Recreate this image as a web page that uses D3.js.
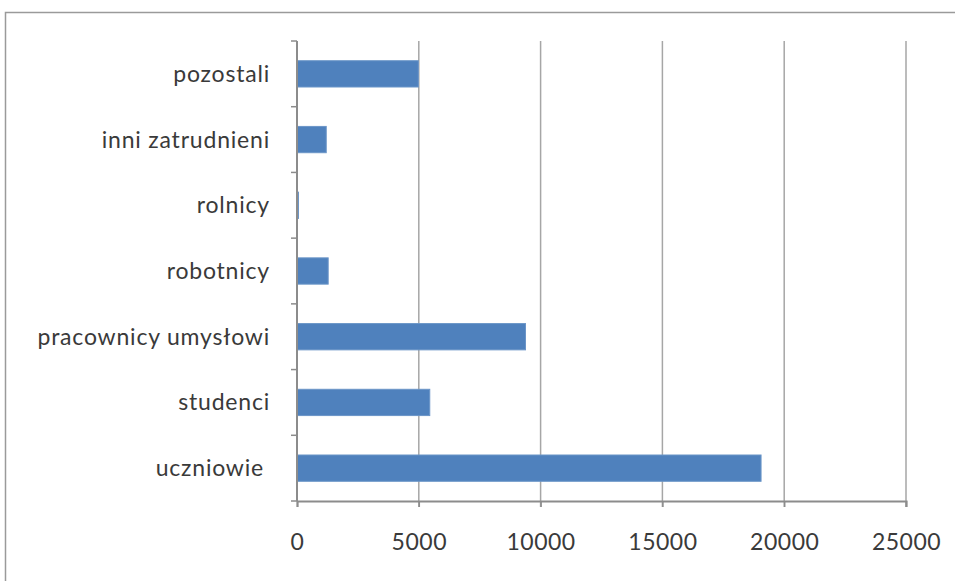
<!DOCTYPE html>
<html>
<head>
<meta charset="utf-8">
<script src="https://cdn.jsdelivr.net/npm/d3@7"></script>
<style>
  body { margin: 0; background: #fff; }
  text { font-family: Lato, "Open Sans", sans-serif; fill: #3a3a3a; }
</style>
</head>
<body>
<svg id="my_svg"></svg>
<script>
var width = 955, height = 581;
var svg = d3.select("#my_svg").attr("width", width).attr("height", height);

// dane z wykresu
var categories = ["pozostali", "inni zatrudnieni", "rolnicy", "robotnicy", "pracownicy umysłowi", "studenci", "uczniowie"];
var values = [4980, 1200, 60, 1280, 9380, 5450, 19050];
var xTicks = [0, 5000, 10000, 15000, 20000, 25000];

var pLeft = 297, pRight = 906, pTop = 41, pBottom = 501;

// ramka wykresu
svg.append("rect")
  .attr("x", 5.5).attr("y", 12.5)
  .attr("width", 1000).attr("height", 700)
  .attr("fill", "none")
  .attr("stroke", "#9a9a9a")
  .attr("stroke-width", 1.5);

var x = d3.scaleLinear().domain([0, 25000]).range([pLeft, pRight]);
var y = d3.scaleBand().domain(categories).range([pTop, pBottom]).paddingInner(0.6).paddingOuter(0.3);

// linie siatki
svg.selectAll(".grid")
  .data(xTicks.slice(1))
  .enter().append("line")
  .attr("class", "grid")
  .attr("x1", function (d) { return x(d); })
  .attr("x2", function (d) { return x(d); })
  .attr("y1", pTop).attr("y2", pBottom + 6)
  .attr("stroke", "#a6a6a6")
  .attr("stroke-width", 1.5);

// slupki
svg.selectAll(".bar")
  .data(categories)
  .enter().append("rect")
  .attr("class", "bar")
  .attr("x", x(0))
  .attr("y", function (d) { return y(d); })
  .attr("width", function (d, i) { return x(values[i]) - x(0); })
  .attr("height", y.bandwidth())
  .attr("fill", "#4f81bd")
  .attr("stroke", "#6b95c8")
  .attr("stroke-width", 1);

// os X
var xAxis = d3.axisBottom(x).tickValues(xTicks).tickSize(6).tickPadding(27).tickFormat(d3.format("d"));
var gx = svg.append("g").attr("transform", "translate(0," + pBottom + ")").call(xAxis);
gx.select(".domain").attr("stroke", "#8c8c8c").attr("stroke-width", 2);
gx.selectAll(".tick line").attr("stroke", "#8c8c8c").attr("stroke-width", 1.5);
gx.selectAll(".tick text").attr("font-size", 23).attr("fill", "#3a3a3a").attr("font-family", "Lato")
  .attr("letter-spacing", 0.5);

// os Y - kreski miedzy kategoriami
var step = (pBottom - pTop) / categories.length;
var yAxisLine = svg.append("g");
yAxisLine.append("line")
  .attr("x1", pLeft).attr("x2", pLeft)
  .attr("y1", pTop).attr("y2", pBottom)
  .attr("stroke", "#8c8c8c").attr("stroke-width", 2);
yAxisLine.selectAll(".ytick")
  .data(d3.range(categories.length + 1))
  .enter().append("line")
  .attr("x1", pLeft - 6).attr("x2", pLeft)
  .attr("y1", function (d) { return pTop + d * step; })
  .attr("y2", function (d) { return pTop + d * step; })
  .attr("stroke", "#8c8c8c").attr("stroke-width", 1.5);

svg.selectAll(".ylabel")
  .data(categories)
  .enter().append("text")
  .attr("class", "ylabel")
  .attr("x", function (d) { return d == "uczniowie" ? pLeft - 33 : pLeft - 27; })
  .attr("y", function (d) { return y(d) + y.bandwidth() / 2; })
  .attr("dy", "0.35em")
  .attr("text-anchor", "end")
  .attr("font-size", 23)
  .attr("letter-spacing", 0.8)
  .text(function (d) { return d; });
</script>
</body>
</html>
